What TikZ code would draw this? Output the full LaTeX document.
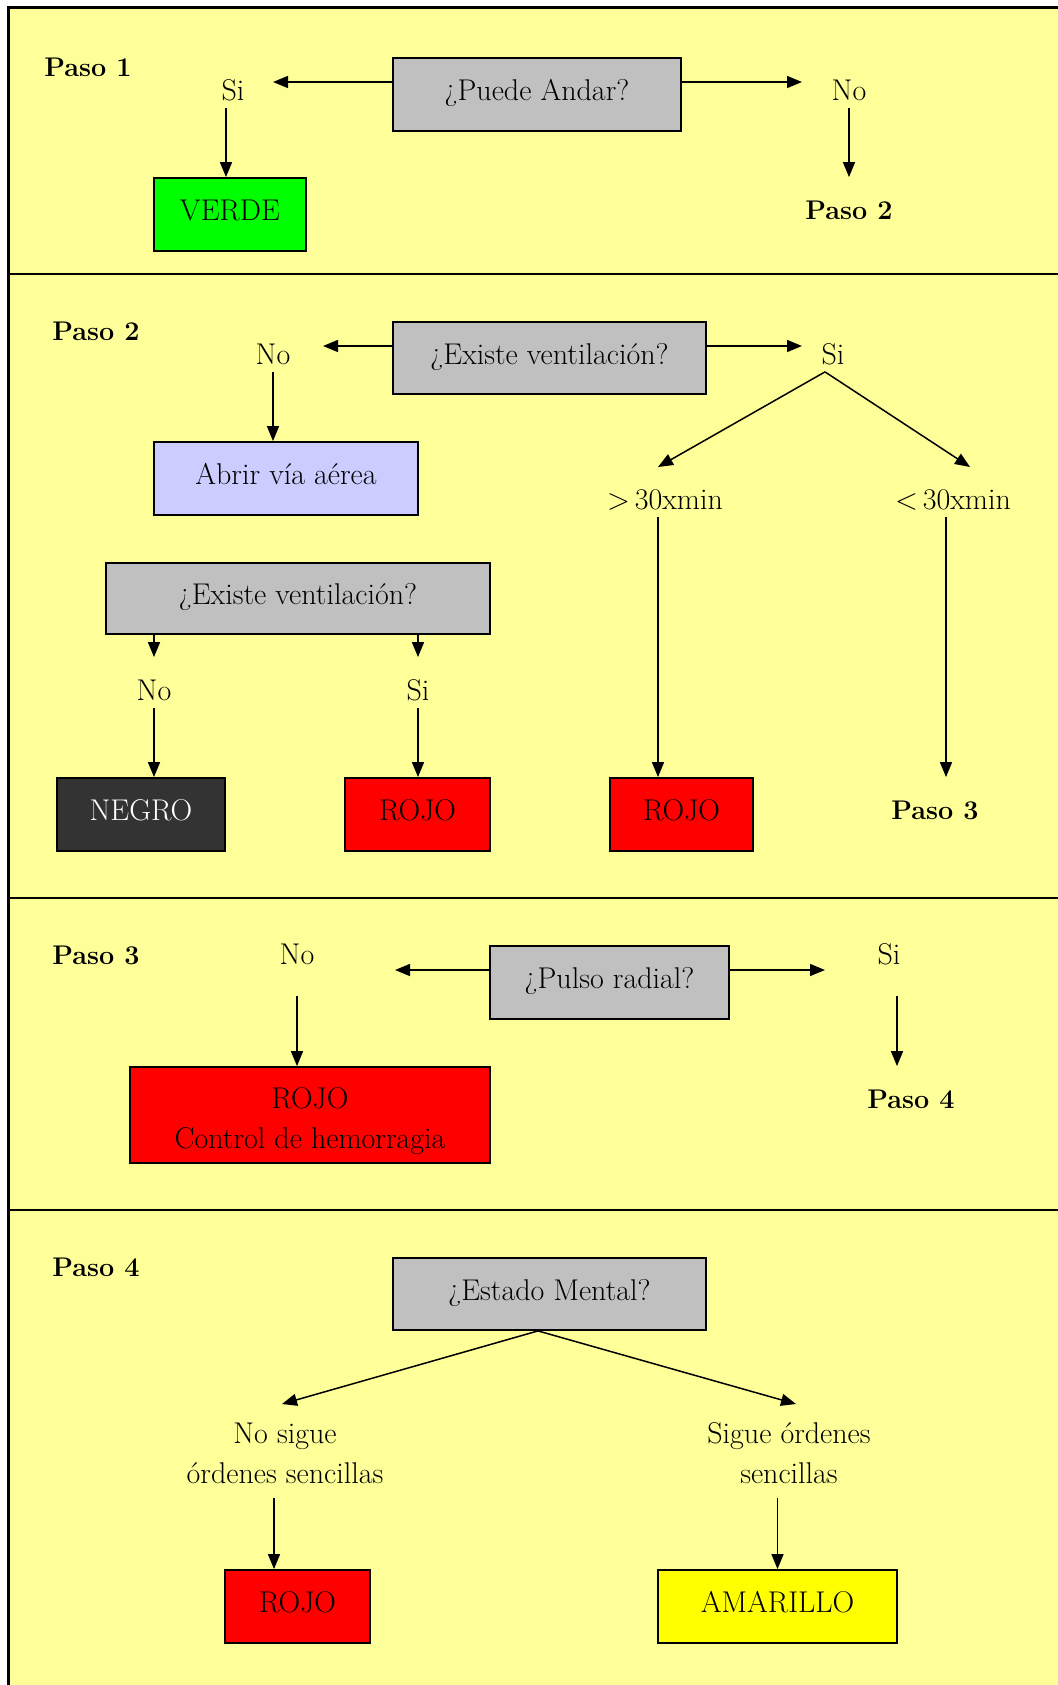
\documentclass[tikz,border=0pt]{standalone}
\usetikzlibrary{arrows.meta}
\definecolor{bgyel}{HTML}{FFFF99}
\definecolor{qgray}{HTML}{C0C0C0}
\definecolor{cverde}{HTML}{00FF00}
\definecolor{clav}{HTML}{CCCCFF}
\definecolor{crojo}{HTML}{FF0000}
\definecolor{cnegro}{HTML}{333333}
\definecolor{camar}{HTML}{FFFF00}
\tikzset{
  lab/.style={font=\fontsize{15}{20}\selectfont, text height=11pt, text depth=3.5pt, inner sep=0pt, align=center},
  lab2/.style={font=\fontsize{15}{20}\selectfont, text height=31pt, text depth=3.5pt, inner sep=0pt, align=center},
  bl/.style={lab, font=\fontsize{13.5}{18}\selectfont\bfseries},
  box/.style={draw=black, line width=0.9pt, font=\fontsize{15}{20}\selectfont, inner sep=0pt, align=center},
  box1/.style={box, text height=11pt, text depth=5pt},
  qbox/.style={box1, fill=qgray},
  arr/.style={line width=0.75pt, -{Triangle[length=7.5pt,width=6pt]}},
  sep/.style={line width=1pt}
}
\begin{document}
\begin{tikzpicture}[x=0.5pt,y=-0.5pt]
\useasboundingbox (0,0) rectangle (1058,1685);
% background and frame
\fill[bgyel] (8,8) rectangle (1058,1685);
\draw[line width=1.5pt] (8,1685) -- (8,8) -- (1058,8);
\draw[sep] (8,274) -- (1058,274);
\draw[sep] (8,898) -- (1058,898);
\draw[sep] (8,1210) -- (1058,1210);

% ---------- Paso 1 ----------
\node[bl] (paso1) at (88,69) {Paso 1};
\node[qbox, minimum width=144pt, minimum height=36.5pt] (q1) at (537,94.5) {¿Puede Andar?};
\coordinate (q1l) at (273,82);
\coordinate (q1r) at (802,82);
\draw[arr] (q1.west |- q1l) -- (q1l);
\draw[arr] (q1.east |- q1r) -- (q1r);
\node[lab] (si1) at (233,93) {Si};
\node[lab] (no1) at (849,93) {No};
\node[box1, fill=cverde, minimum width=76pt, minimum height=36.5pt] (verde) at (230,214.5) {VERDE};
\draw[arr] ([xshift=-2pt]verde.north |- si1.south) -- ([xshift=-2pt]verde.north);
\node[bl] (p2a) at (849,212) {Paso 2};
\draw[arr, shorten >=10pt] (no1.south) -- (p2a.north);

% ---------- Paso 2 ----------
\node[bl] (paso2) at (96,333) {Paso 2};
\node[qbox, minimum width=156.5pt, minimum height=36pt] (q2) at (549.5,358) {¿Existe ventilación?};
\coordinate (q2l) at (323,346);
\coordinate (q2r) at (802,346);
\draw[arr] (q2.west |- q2l) -- (q2l);
\draw[arr] (q2.east |- q2r) -- (q2r);
\node[lab] (no2) at (273,357) {No};
\node[lab] (si2) at (833,357) {Si};
\node[box1, fill=clav, minimum width=132pt, minimum height=36.5pt] (abrir) at (286,478.5) {Abrir vía aérea};
\draw[arr] (no2.south) -- (no2.south |- abrir.north);
\coordinate (gtTip) at (658,467);
\coordinate (ltTip) at (970,467);
\draw[arr] ([xshift=-4pt]si2.south) -- (gtTip);
\draw[arr] ([xshift=-4pt]si2.south) -- (ltTip);
\node[lab] (gt) at (665,502) {\textgreater\,30xmin};
\node[lab] (lt) at (953,502) {\textless\,30xmin};
\node[box1, fill=crojo, minimum width=71.5pt, minimum height=36.5pt] (rojo2) at (681.5,814.5) {ROJO};
\node[bl] (p3a) at (935,812) {Paso 3};
\draw[arr] (gt.south -| gtTip) -- (gtTip |- rojo2.north);
\draw[arr, shorten >=10pt] ([xshift=-3.5pt]lt.south) -- ([xshift=-3.5pt]lt.south |- p3a.north);

\node[qbox, minimum width=192pt, minimum height=35.5pt] (q2b) at (298,598.5) {¿Existe ventilación?};
\node[lab] (no2b) at (154,693) {No};
\node[lab] (si2b) at (418,693) {Si};
\draw[arr, shorten >=10.5pt] (no2b.north |- q2b.south) -- (no2b.north);
\draw[arr, shorten >=10.5pt] (si2b.north |- q2b.south) -- (si2b.north);
\node[box1, fill=cnegro, text=white, minimum width=84pt, minimum height=36.5pt] (negro) at (141,814.5) {NEGRO};
\node[box1, fill=crojo, minimum width=72.5pt, minimum height=36.5pt] (rojo1) at (417.5,814.5) {ROJO};
\draw[arr] (no2b.south) -- (no2b.south |- negro.north);
\draw[arr] (si2b.south) -- (si2b.south |- rojo1.north);

% ---------- Paso 3 ----------
\node[bl] (paso3) at (96,957) {Paso 3};
\node[lab] (no3) at (297,957) {No};
\node[qbox, minimum width=119.5pt, minimum height=36.5pt] (q3) at (609.5,982.5) {¿Pulso radial?};
\coordinate (q3l) at (395,970);
\coordinate (q3r) at (825,970);
\draw[arr] (q3.west |- q3l) -- (q3l);
\draw[arr] (q3.east |- q3r) -- (q3r);
\node[lab] (si3) at (889,957) {Si};
\node[box, fill=crojo, text height=33pt, text depth=0pt, minimum width=180pt, minimum height=48pt] (rojo3) at (310,1115) {ROJO\\Control de hemorragia};
\draw[arr, shorten <=12pt] (no3.south) -- (no3.south |- rojo3.north);
\node[bl] (p4a) at (911,1101) {Paso 4};
\draw[arr, shorten <=12pt, shorten >=10pt] ([xshift=4pt]si3.south) -- ([xshift=4pt]si3.south |- p4a.north);

% ---------- Paso 4 ----------
\node[bl] (paso4) at (96,1269) {Paso 4};
\node[qbox, minimum width=156.5pt, minimum height=36pt] (q4) at (549.5,1294) {¿Estado Mental?};
\coordinate (nsTip) at (282,1404);
\coordinate (sgTip) at (796,1404);
\draw[arr] ([xshift=-5.75pt]q4.south) -- (nsTip);
\draw[arr] ([xshift=-5.75pt]q4.south) -- (sgTip);
\node[lab2] (ns) at (285,1455.5) {No sigue\\órdenes sencillas};
\node[lab2] (sg) at (789,1455.5) {Sigue órdenes\\sencillas};
\node[box1, fill=crojo, minimum width=72.5pt, minimum height=36.5pt] (rojo4) at (297.5,1606.5) {ROJO};
\node[box1, fill=camar, minimum width=119.5pt, minimum height=36.5pt] (amar) at (777.5,1606.5) {AMARILLO};
\draw[arr, shorten <=4pt] ([xshift=-5.5pt]ns.south) -- ([xshift=-5.5pt]ns.south |- rojo4.north);
\draw[arr, shorten <=4pt] (amar.north |- sg.south) -- (amar.north);
\end{tikzpicture}
\end{document}
